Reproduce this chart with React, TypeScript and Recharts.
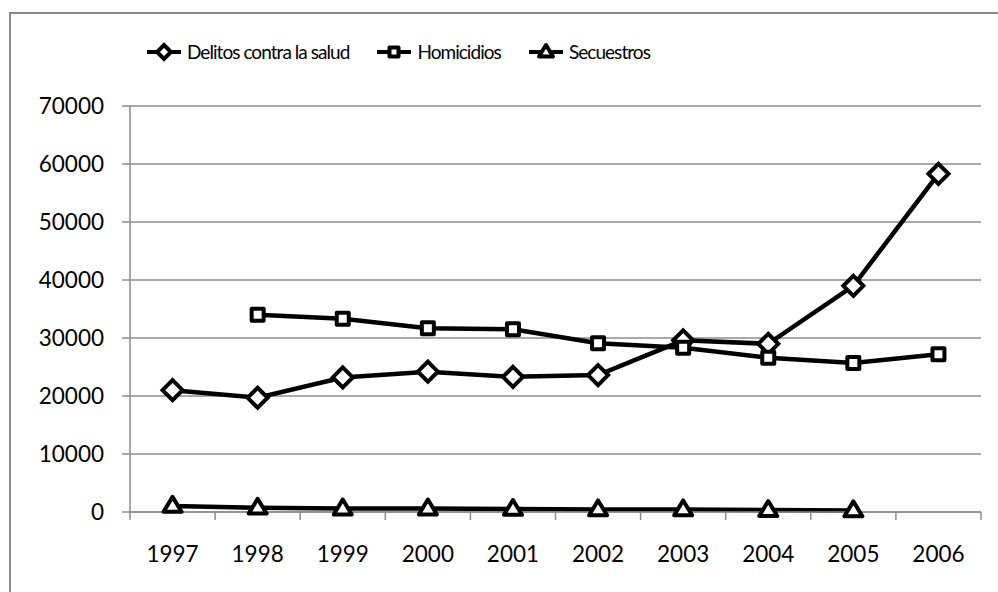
import { CartesianGrid, Line, LineChart, XAxis, YAxis } from "recharts";

const years = [1997, 1998, 1999, 2000, 2001, 2002, 2003, 2004, 2005, 2006];
const delitos = [21000, 19700, 23200, 24200, 23300, 23600, 29600, 29000, 39000, 58300];
const homicidios = [null, 34000, 33300, 31700, 31500, 29100, 28300, 26600, 25700, 27200];
const secuestros = [1050, 730, 590, 590, 520, 440, 440, 330, 280, null];
const yTicks = [0, 10000, 20000, 30000, 40000, 50000, 60000, 70000];
// category boundaries (tick marks) and centres (labels)
const xTicks = [
  1996.5, 1997, 1997.5, 1998, 1998.5, 1999, 1999.5, 2000, 2000.5, 2001, 2001.5,
  2002, 2002.5, 2003, 2003.5, 2004, 2004.5, 2005, 2005.5, 2006, 2006.5,
];

const data = years.map((year, i) => ({
  year,
  delitos: delitos[i],
  homicidios: homicidios[i],
  secuestros: secuestros[i],
}));

const FONT = "Lato, 'Open Sans', sans-serif";
const GRID = "#8c8c8c";

type DotProps = { cx?: number; cy?: number; index?: number; value?: unknown };

function Diamond({ cx, cy, r }: { cx: number; cy: number; r: number }) {
  return (
    <path
      d={`M${cx},${cy - r}L${cx + r},${cy}L${cx},${cy + r}L${cx - r},${cy}Z`}
      fill="#fff"
      stroke="#000"
      strokeWidth={4}
    />
  );
}

function Square({ cx, cy, r }: { cx: number; cy: number; r: number }) {
  return (
    <rect
      x={cx - r}
      y={cy - r}
      width={r * 2}
      height={r * 2}
      fill="#fff"
      stroke="#000"
      strokeWidth={4}
      strokeLinejoin="round"
    />
  );
}

function Triangle({ cx, cy, r }: { cx: number; cy: number; r: number }) {
  return (
    <path
      d={`M${cx},${cy - r}L${cx + r},${cy + r * 0.65}L${cx - r},${cy + r * 0.65}Z`}
      fill="#fff"
      stroke="#000"
      strokeWidth={4}
      strokeLinejoin="round"
    />
  );
}

const makeDot =
  (Shape: typeof Diamond, r: number) =>
  (p: DotProps) => {
    if (p.cx == null || p.cy == null || p.value == null) return <g key={`e${p.index}`} />;
    return (
      <g key={`d${p.index}`}>
        <Shape cx={p.cx} cy={p.cy} r={r} />
      </g>
    );
  };

function YearTick(props: { x?: number; y?: number; payload?: { value: number } }) {
  const { x = 0, y = 0, payload } = props;
  const v = payload?.value ?? 0;
  if (v % 1 !== 0) {
    return <line x1={x} x2={x} y1={y} y2={y + 8} stroke={GRID} strokeWidth={1.5} />;
  }
  return (
    <text x={x} y={y + 50} textAnchor="middle" fill="#000" fontSize={22.5} fontFamily={FONT}>
      {v}
    </text>
  );
}

const legendItems = [
  { label: "Delitos contra la salud", Shape: Diamond, r: 7 },
  { label: "Homicidios", Shape: Square, r: 4.5 },
  { label: "Secuestros", Shape: Triangle, r: 7 },
];

function ChartLegend() {
  return (
    <div
      style={{
        position: "absolute",
        left: 147,
        top: 40,
        display: "flex",
        alignItems: "center",
        gap: 28,
        fontFamily: FONT,
        fontSize: 19,
        letterSpacing: -0.95,
        lineHeight: "24px",
      }}
    >
      {legendItems.map(({ label, Shape, r }) => (
        <div key={label} style={{ display: "flex", alignItems: "center", gap: 6 }}>
          <svg width={34} height={20}>
            <line x1={0} x2={34} y1={10} y2={10} stroke="#000" strokeWidth={4} />
            <Shape cx={17} cy={10} r={r} />
          </svg>
          <span>{label}</span>
        </div>
      ))}
    </div>
  );
}

export default function App() {
  return (
    <div style={{ position: "absolute", left: 0, top: 0, width: 998, height: 592, overflow: "hidden", background: "#fff" }}>
      <div
        style={{
          position: "absolute",
          left: 9,
          top: 12,
          width: 1100,
          height: 700,
          border: "2px solid #8a8a8a",
          boxSizing: "border-box",
        }}
      />
      <LineChart
        width={998}
        height={592}
        data={data}
        margin={{ top: 106, right: 17, left: 40, bottom: 40 }}
        style={{ position: "absolute", left: 0, top: 0 }}
      >
        <CartesianGrid vertical={false} stroke={GRID} strokeWidth={1.5} />
        <XAxis
          dataKey="year"
          type="number"
          domain={[1996.5, 2006.5]}
          ticks={xTicks}
          tickLine={false}
          tickSize={0}
          tickMargin={0}
          axisLine={{ stroke: GRID, strokeWidth: 1.5 }}
          tick={<YearTick />}
          height={40}
          interval={0}
        />
        <YAxis
          domain={[0, 70000]}
          ticks={yTicks}
          width={90}
          tickSize={8}
          tickMargin={18}
          tickLine={{ stroke: GRID, strokeWidth: 1.5 }}
          axisLine={{ stroke: GRID, strokeWidth: 1.5 }}
          tick={{ fill: "#000", fontSize: 22.5, fontFamily: FONT }}
          interval={0}
        />
        <Line
          dataKey="delitos"
          stroke="#000"
          strokeWidth={4.5}
          dot={makeDot(Diamond, 10)}
          activeDot={false}
          isAnimationActive={false}
        />
        <Line
          dataKey="homicidios"
          stroke="#000"
          strokeWidth={4.5}
          dot={makeDot(Square, 6)}
          activeDot={false}
          isAnimationActive={false}
        />
        <Line
          dataKey="secuestros"
          stroke="#000"
          strokeWidth={4.5}
          dot={makeDot(Triangle, 9)}
          activeDot={false}
          isAnimationActive={false}
        />
      </LineChart>
      <ChartLegend />
    </div>
  );
}
